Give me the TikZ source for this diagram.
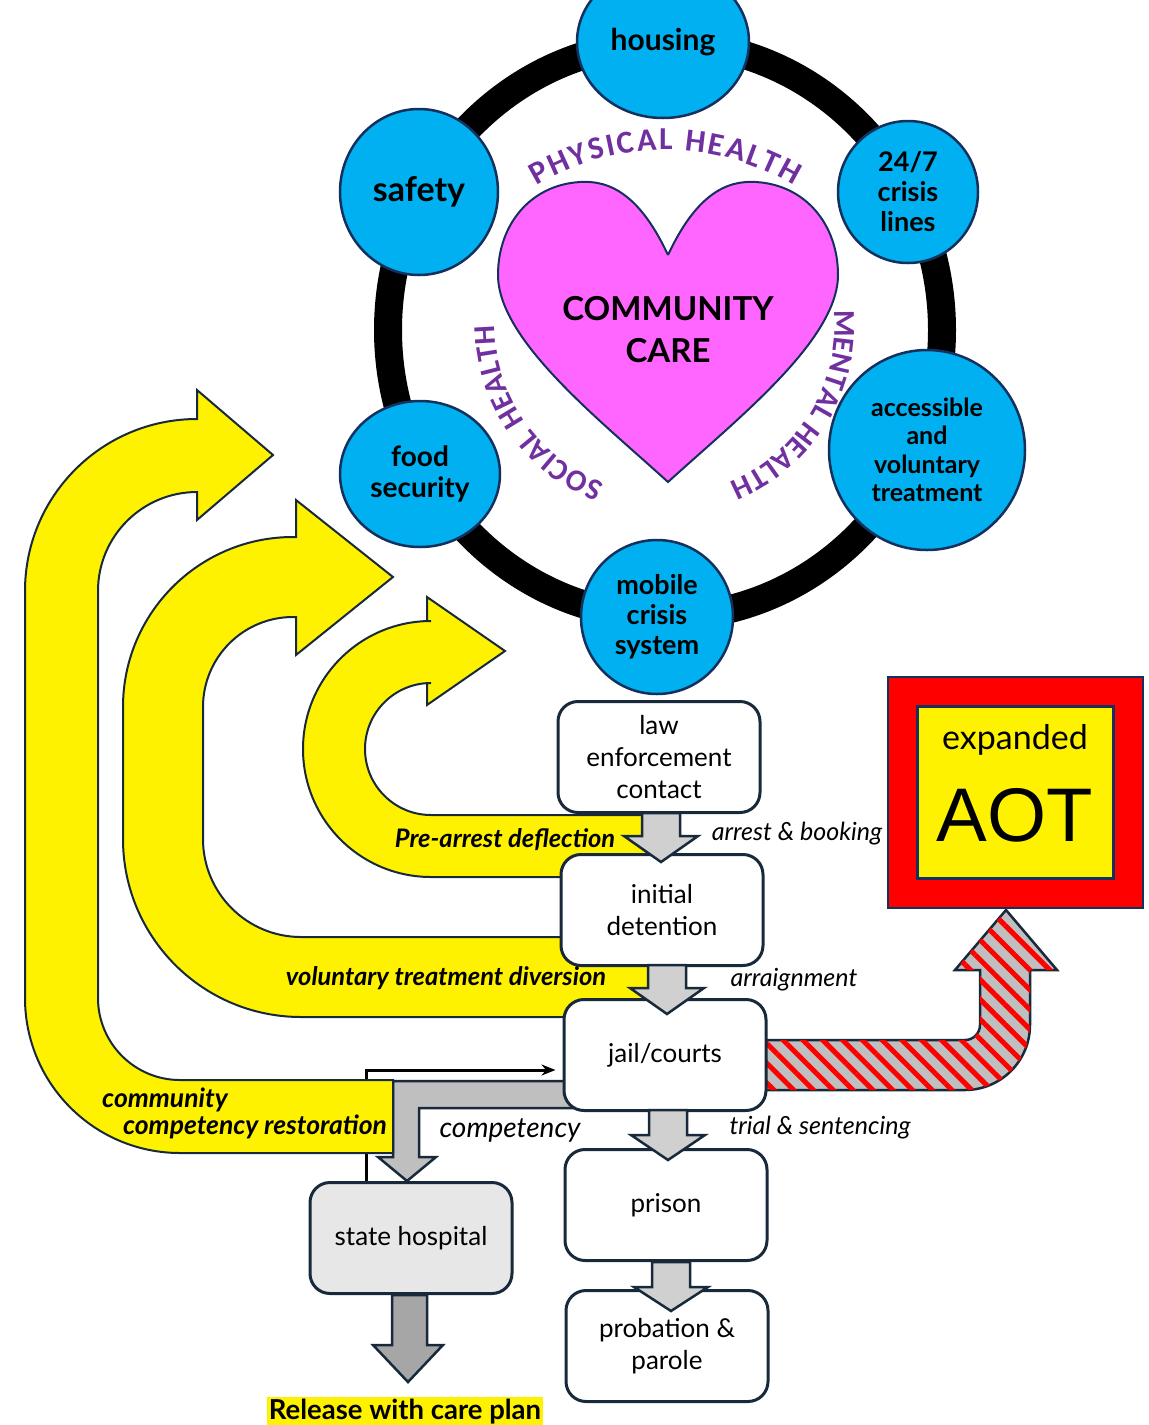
\documentclass[tikz,border=0pt]{standalone}
\usepackage{fontspec}
\setmainfont{Lato}
\newfontfamily\aotfont{Liberation Sans}
\newfontfamily\arcfont{Carlito}
\usetikzlibrary{shapes.geometric,decorations.text,patterns.meta,calc,arrows.meta}

\definecolor{needblue}{HTML}{00B0F0}
\definecolor{neededge}{HTML}{14305C}
\definecolor{boxedge}{HTML}{17293A}
\definecolor{heartpink}{HTML}{FF66FF}
\definecolor{healthpurple}{HTML}{7030A0}
\definecolor{flowgray}{HTML}{D0D0D0}
\definecolor{midgray}{HTML}{BFBFBF}
\definecolor{deepgray}{HTML}{A6A6A6}
\definecolor{hospgray}{HTML}{E7E7E7}

\newcommand{\healthfont}{\arcfont\fontsize{32}{32}\selectfont\bfseries}
\newcommand{\sidehealthfont}{\arcfont\fontsize{30.5}{32}\selectfont\bfseries}
% gray block arrow pointing down: centre x, top, head base, tip
\newcommand{\downblock}[5][flowgray]{%
  \draw[grayblock, fill=#1] ({#2-19},#3) -- ({#2-19},#4) -- ({#2-37},#4) -- (#2,#5)
    -- ({#2+37},#4) -- ({#2+19},#4) -- ({#2+19},#3) -- cycle;}

\tikzset{
  need/.style={ellipse, draw=neededge, line width=2.5pt, fill=needblue,
    inner sep=0pt, align=center},
  stage/.style={rectangle, rounded corners=20pt, draw=boxedge, line width=3pt,
    fill=white, minimum width=202pt, minimum height=111pt, align=center,
    font=\fontsize{26}{32}\selectfont},
  yellowarrow/.style={fill=yellow, draw=boxedge, line width=2pt},
  grayblock/.style={draw=boxedge, line width=2.5pt},
  steplabel/.style={font=\fontsize{25}{30}\selectfont\itshape, inner sep=1pt},
  pathlabel/.style={font=\fontsize{25.5}{28}\selectfont\bfseries\itshape, inner sep=1pt},
  healtharc/.style={decorate, decoration={text along path, text={|\healthfont|#1},
    text align={fit to path}, text color=healthpurple}},
  sidearc/.style={decorate, decoration={text along path, text={|\sidehealthfont|#1},
    text align={fit to path}, text color=healthpurple}}
}

\begin{document}
\begin{tikzpicture}[x=1pt,y=-1pt]
\useasboundingbox (0,0) rectangle (1149,1425);

% ring of community needs
\draw[line width=28pt] (665,330) ellipse [x radius=277, y radius=287];

\node[need, minimum width=172pt, minimum height=152pt, font=\fontsize{30}{36}\selectfont\bfseries] (housing) at (663,42) {housing};
\node[need, minimum width=158pt, minimum height=166pt, font=\fontsize{34}{40}\selectfont\bfseries] (safety) at (419,192) {safety};
\node[need, minimum width=140pt, minimum height=142pt, font=\fontsize{27}{30}\selectfont\bfseries] (crisislines) at (908,192) {24/7\\crisis\\lines};
\node[need, minimum width=196pt, minimum height=200pt, font=\fontsize{25}{28.5}\selectfont\bfseries] (treatment) at (927,450) {accessible\\and\\voluntary\\treatment};
\node[need, minimum width=160pt, minimum height=146pt, font=\fontsize{28}{31}\selectfont\bfseries] (food) at (420,474) {food\\security};
\node[need, minimum width=152pt, minimum height=154pt, font=\fontsize{27}{30}\selectfont\bfseries] (mobile) at (657,617) {mobile\\crisis\\system};

% heart
\draw[fill=heartpink, draw=neededge, line width=2pt] (668,255)
  .. controls (640,195) and (610,180) .. (580,182)
  .. controls (530,185) and (498,225) .. (498,275)
  .. controls (498,340) and (600,420) .. (668,482)
  .. controls (736,420) and (838,340) .. (838,275)
  .. controls (838,225) and (806,185) .. (756,182)
  .. controls (726,180) and (696,195) .. (668,255);
\node[font=\fontsize{33}{42}\selectfont\bfseries, align=center] (care) at (668,330) {COMMUNITY\\CARE};

% health words round the heart
\path[healtharc=PHYSICAL HEALTH] ($(665,400)+(-121:250)$) arc[start angle=-121, end angle=-59, radius=250];
\path[sidearc=MENTAL HEALTH] ($(665,325)+(-5:170)$) arc[start angle=-5, end angle=68, radius=170];
\path[sidearc=SOCIAL HEALTH] ($(665,325)+(111:170)$) arc[start angle=111, end angle=180, radius=170];

% yellow return arrows
\draw[yellowarrow] (660,877) -- (431,877) arc[start angle=90, end angle=270, radius=128]
  -- (427,621) -- (427,597) -- (505,651) -- (427,705) -- (427,683) -- (431,683)
  arc[start angle=270, end angle=90, radius=66] -- (660,815) -- cycle;
\draw[yellowarrow] (660,1017) -- (301,1017) arc[start angle=90, end angle=180, radius=178]
  -- (123,707) arc[start angle=180, end angle=270, radius=170]
  -- (296,537) -- (296,500) -- (393,577) -- (296,655) -- (296,617) -- (293,617)
  arc[start angle=270, end angle=180, radius=90]
  -- (203,839) arc[start angle=180, end angle=90, radius=98] -- (660,937) -- cycle;

% competency arrow
\draw[grayblock, fill=midgray] (600,1081) -- (393,1081) -- (393,1157) -- (378,1157) -- (407,1181)
  -- (436,1157) -- (419,1157) -- (419,1108) -- (600,1108) -- cycle;

% striped arrow to AOT
\draw[grayblock, fill=midgray, postaction={pattern={Lines[angle=-45, distance=14pt, line width=5pt]}, pattern color=red}]
  (740,1040) -- (965,1040) arc[start angle=90, end angle=0, radius=15]
  -- (980,970) -- (955,970) -- (1006,910) -- (1057,970) -- (1030,970)
  -- (1030,1025) arc[start angle=0, end angle=90, radius=65] -- (740,1090) -- cycle;

% AOT box
\node[rectangle, fill=red, draw=neededge, line width=2pt, minimum width=255pt, minimum height=231pt] (aotframe) at (1015.5,792.5) {};
\node[rectangle, fill=yellow, draw=neededge, line width=3pt, minimum width=196pt, minimum height=172pt] (aot) at (1015,792) {};
\node[font=\fontsize{34}{40}\selectfont] (expanded) at (1015,740) {expanded};
\node[font=\aotfont\fontsize{76}{80}\selectfont] (aotword) at (1015,815) {AOT};

% stages
\node[stage] (law) at (659,757) {law\\enforcement\\contact};
\node[stage] (detention) at (662,910) {initial\\detention};
\node[stage] (jail) at (665,1055) {jail/courts};
\node[stage] (prison) at (666,1205) {prison};
\node[stage] (parole) at (667,1346) {probation \&\\parole};
\node[stage, fill=hospgray] (hospital) at (411,1238) {state hospital};

\draw[-{Stealth[length=14pt, width=11pt]}, line width=3pt] ([xshift=-45pt]hospital.north) |- ([xshift=-7pt, yshift=-15pt]jail.west);

% outer yellow arrow
\draw[yellowarrow] (393,1153) -- (180,1153) arc[start angle=90, end angle=180, radius=155]
  -- (25,591) arc[start angle=180, end angle=270, radius=172]
  -- (197,390) -- (273,455) -- (197,520) -- (197,492)
  arc[start angle=270, end angle=180, radius=99]
  -- (98,998) arc[start angle=180, end angle=90, radius=82] -- (393,1080) -- cycle;

\downblock{661}{813}{836}{862}
\downblock{667}{965}{988}{1014}
\downblock{668}{1110}{1135}{1160}
\downblock{671}{1262}{1287}{1311}
\draw[grayblock, fill=deepgray] (392,1295) -- (392,1345) -- (373,1345) -- (408,1382) -- (443,1345)
  -- (427,1345) -- (427,1295) -- cycle;

% labels
\node[steplabel] (arrest) at (797,834) {arrest \& booking};
\node[steplabel] (arraign) at (794,980) {arraignment};
\node[steplabel] (trial) at (820,1128) {trial \& sentencing};
\node[steplabel, font=\fontsize{28}{30}\selectfont\itshape] (competency) at (510,1130) {competency};
\node[pathlabel] (deflect) at (505,840) {Pre-arrest deflection};
\node[pathlabel] (divert) at (446,978) {voluntary treatment diversion};
\node[pathlabel, font=\fontsize{26.5}{28}\selectfont\bfseries\itshape] (community) at (165,1100) {community};
\node[pathlabel, font=\fontsize{26.5}{28}\selectfont\bfseries\itshape] (restore) at (255,1127) {competency restoration};
\node[fill=yellow, inner sep=2pt, font=\fontsize{27.5}{30}\selectfont\bfseries] (release) at (405,1412) {Release with care plan};
\end{tikzpicture}
\end{document}
